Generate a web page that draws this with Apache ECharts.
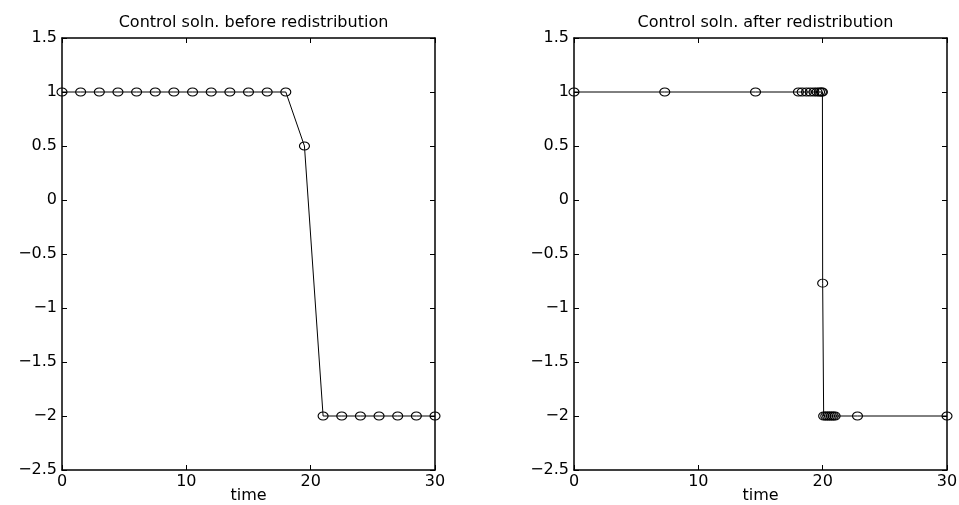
<!DOCTYPE html>
<html>
<head>
<meta charset="utf-8">
<style>
  html, body { margin: 0; padding: 0; background: #fff; }
  #chart { width: 959px; height: 505px; }
</style>
<script src="https://cdn.jsdelivr.net/npm/echarts@6/dist/echarts.min.js"></script>
</head>
<body>
<div id="chart"></div>
<script>
// before redistribution: uniform mesh
const timeBefore = [0, 1.5, 3, 4.5, 6, 7.5, 9, 10.5, 12, 13.5, 15, 16.5, 18, 19.5, 21, 22.5, 24, 25.5, 27, 28.5, 30]
const ctrlBefore = [1, 1, 1, 1, 1, 1, 1, 1, 1, 1, 1, 1, 1, 0.5, -2, -2, -2, -2, -2, -2, -2]

// after redistribution: points bunched near the switch
const timeAfter = [0, 7.3, 14.6, 18.05, 18.35, 18.7, 19.0, 19.3, 19.55, 19.75, 19.9, 19.98,
  20.0, 20.08, 20.25, 20.4, 20.55, 20.7, 20.85, 21.0, 22.8, 30]
const ctrlAfter = [1, 1, 1, 1, 1, 1, 1, 1, 1, 1, 1, 1,
  -0.77, -2, -2, -2, -2, -2, -2, -2, -2, -2]

const titles = ['Control soln. before redistribution', 'Control soln. after redistribution']

const FONT = 'DejaVu Sans, sans-serif'
const FS = 16
const fmt = v => String(v).replace('-', '\u2212')

const grids = [
  { left: 62, right: 524, top: 38, bottom: 35, outerBoundsMode: 'none' },
  { left: 574, right: 12, top: 38, bottom: 35, outerBoundsMode: 'none' }
]

function xAx(gi, pos) {
  return {
    type: 'value', gridIndex: gi, position: pos,
    min: 0, max: 30, interval: 10,
    axisLine: { show: true, onZero: false, lineStyle: { color: '#000', width: 1.5 } },
    axisTick: { show: true, inside: true, length: 5, lineStyle: { color: '#000' } },
    axisLabel: {
      show: pos === 'bottom', color: '#000', fontFamily: FONT, fontSize: FS, margin: 4,
      formatter: fmt
    },
    splitLine: { show: false },
    name: pos === 'bottom' ? 'time' : '',
    nameLocation: 'middle', nameGap: 26, nameMoveOverlap: false,
    nameTextStyle: { color: '#000', fontFamily: FONT, fontSize: FS, verticalAlign: 'middle' }
  }
}

function yAx(gi, pos) {
  return {
    type: 'value', gridIndex: gi, position: pos,
    min: -2.5, max: 1.5, interval: 0.5,
    axisLine: { show: true, onZero: false, lineStyle: { color: '#000', width: 1.5 } },
    axisTick: { show: true, inside: true, length: 5, lineStyle: { color: '#000' } },
    axisLabel: {
      show: pos === 'left', color: '#000', fontFamily: FONT, fontSize: FS, margin: 5,
      formatter: fmt
    },
    splitLine: { show: false }
  }
}

function makeSeries(idx, xs, ys) {
  return {
    type: 'line',
    xAxisIndex: idx * 2, yAxisIndex: idx * 2,
    data: xs.map((t, i) => [t, ys[i]]),
    symbol: 'circle',
    symbolSize: [10, 8],
    showAllSymbol: true,
    lineStyle: { color: '#000', width: 1 },
    itemStyle: { color: 'rgba(0,0,0,0)', borderColor: '#000', borderWidth: 1 },
    emphasis: { disabled: true },
    animation: false
  }
}

const chart = echarts.init(document.getElementById('chart'))
chart.setOption({
  animation: false,
  title: titles.map((t, i) => ({
    text: t,
    left: i === 0 ? (62 + 435) / 2 : (574 + 947) / 2,
    textAlign: 'center',
    top: 10,
    textStyle: { color: '#000', fontFamily: FONT, fontSize: FS, fontWeight: 'normal' }
  })),
  grid: grids,
  xAxis: [xAx(0, 'bottom'), xAx(0, 'top'), xAx(1, 'bottom'), xAx(1, 'top')],
  yAxis: [yAx(0, 'left'), yAx(0, 'right'), yAx(1, 'left'), yAx(1, 'right')],
  series: [
    makeSeries(0, timeBefore, ctrlBefore),
    makeSeries(1, timeAfter, ctrlAfter)
  ]
})
</script>
</body>
</html>
